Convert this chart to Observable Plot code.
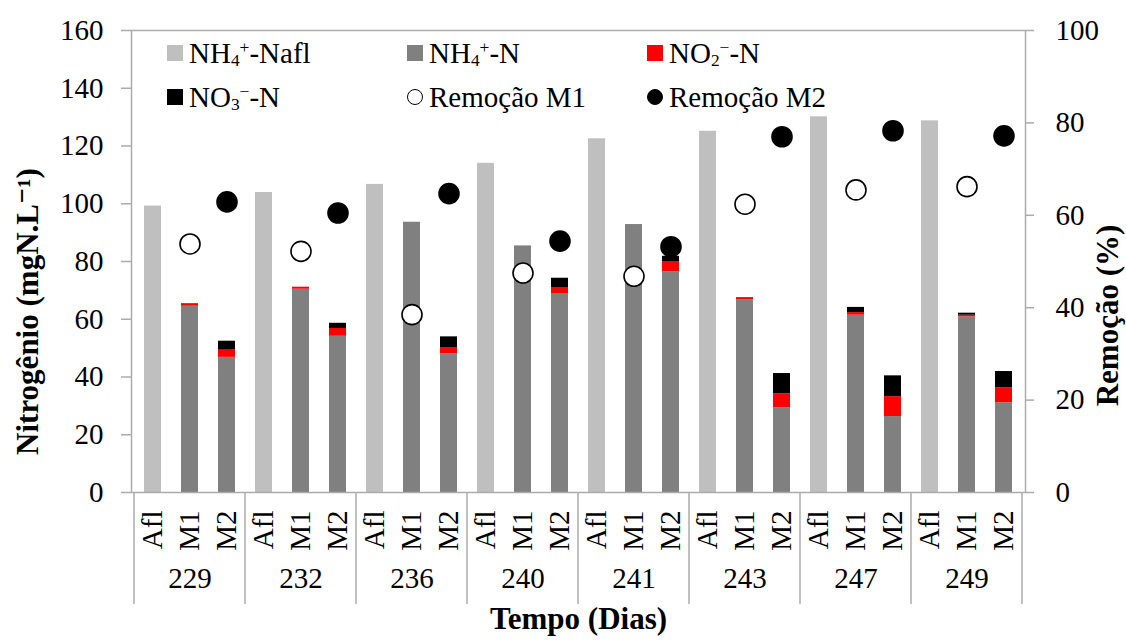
<!DOCTYPE html>
<html>
<head>
<meta charset="utf-8">
<script src="https://cdn.jsdelivr.net/npm/d3@7"></script>
<script src="https://cdn.jsdelivr.net/npm/@observablehq/plot@0.6"></script>
<style>
  body { margin: 0; background: #fff; }
  #wrap { position: relative; width: 1126px; height: 644px; font-family: "Liberation Serif", Tinos, "Times New Roman", "DejaVu Serif", "Noto Serif", serif; }
  #legend { position: absolute; left: 167px; top: 35px; display: grid; grid-template-columns: repeat(3, 240px); grid-auto-rows: 36px; row-gap: 8px; }
  .item { display: flex; align-items: center; font-size: 29px; line-height: 36px; color: #000; white-space: nowrap; }
  .sw { width: 16px; height: 16px; margin-right: 6px; flex: none; box-sizing: border-box; }
  .circ { border-radius: 50%; border: 1.6px solid #000; }
  sub, sup { font-size: 60%; line-height: 0; }
  sub { vertical-align: -0.18em; }
  sup { vertical-align: 0.55em; }
  svg text { font-family: "Liberation Serif", Tinos, "Times New Roman", "DejaVu Serif", "Noto Serif", serif; }
</style>
</head>
<body>
<div id="wrap">
  <div id="chart"></div>
  <div id="legend"></div>
</div>
<script>
// ---- data ----
const days = ["229", "232", "236", "240", "241", "243", "247", "249"];
const types = ["Afl", "M1", "M2"];
const nh4Afl = [99.2, 103.9, 106.7, 114.0, 122.5, 125.1, 130.1, 128.7];
const nh4M1  = [64.5, 70.4, 93.6, 85.4, 92.8, 66.7, 61.4, 60.8];
const no2M1  = [0.9, 0.7, 0.0, 0.0, 0.0, 0.8, 0.9, 0.6];
const no3M1  = [0.0, 0.0, 0.0, 0.0, 0.0, 0.0, 1.8, 0.7];
const nh4M2  = [46.8, 54.1, 48.1, 68.7, 76.4, 29.3, 26.3, 31.1];
const no2M2  = [2.5, 2.7, 2.1, 2.3, 3.4, 4.9, 6.9, 5.2];
const no3M2  = [3.1, 1.8, 3.7, 3.2, 2.0, 7.0, 7.2, 5.6];
const remM1  = [53.8, 52.2, 38.5, 47.5, 46.8, 62.4, 65.5, 66.2];
const remM2  = [62.9, 60.5, 64.7, 54.4, 53.2, 77.0, 78.3, 77.2];
const leftTicks = [0, 20, 40, 60, 80, 100, 120, 140, 160];
const rightTicks = [0, 20, 40, 60, 80, 100];
const compNames = ["NH₄⁺-Nafl", "NH₄⁺-N", "NO₂⁻-N", "NO₃⁻-N"];
const compColors = ["#bfbfbf", "#808080", "#ff0000", "#000000"];
const legendLabels = [
  "NH<sub>4</sub><sup>+</sup>-Nafl", "NH<sub>4</sub><sup>+</sup>-N", "NO<sub>2</sub><sup>−</sup>-N",
  "NO<sub>3</sub><sup>−</sup>-N", "Remoção M1", "Remoção M2"
];
const leftTitle = "Nitrogênio (mgN.L⁻¹)";
const rightTitle = "Remoção (%)";
const xTitle = "Tempo (Dias)";

// ---- derived tables ----
const yMax = 160, rMax = 100, K = yMax / rMax;
const keys = days.flatMap(d => types.map(t => d + "|" + t));
const bars = [];
days.forEach((d, i) => {
  bars.push({key: d + "|Afl", comp: compNames[0], value: nh4Afl[i]});
  bars.push({key: d + "|M1", comp: compNames[1], value: nh4M1[i]});
  bars.push({key: d + "|M1", comp: compNames[2], value: no2M1[i]});
  bars.push({key: d + "|M1", comp: compNames[3], value: no3M1[i]});
  bars.push({key: d + "|M2", comp: compNames[1], value: nh4M2[i]});
  bars.push({key: d + "|M2", comp: compNames[2], value: no2M2[i]});
  bars.push({key: d + "|M2", comp: compNames[3], value: no3M2[i]});
});
const remRows1 = days.map((d, i) => ({key: d + "|M1", rem: remM1[i]}));
const remRows2 = days.map((d, i) => ({key: d + "|M2", rem: remM2[i]}));

const axisColor = "#ababab";
const font = '"Liberation Serif", Tinos, "Times New Roman", "DejaVu Serif", "Noto Serif", serif';

function groupSeparators(index, scales, values, dims) {
  const x = scales.x;
  const plotW = dims.width - dims.marginLeft - dims.marginRight;
  const bw = typeof x.bandwidth === "function" ? x.bandwidth() : plotW / keys.length * 0.456;
  const step = typeof x.step === "function" ? x.step() : plotW / keys.length;
  const gap = (step - bw) / 2;
  const y0 = dims.height - dims.marginBottom;
  const edges = days.map(d => x(d + "|Afl") - gap);
  edges.push(x(days[days.length - 1] + "|M2") + bw + gap);
  const g = d3.create("svg:g").attr("stroke", axisColor).attr("stroke-width", 1.5);
  for (const e of edges) {
    g.append("line").attr("x1", e).attr("x2", e).attr("y1", y0).attr("y2", y0 + 112);
  }
  return g.node();
}

const chart = Plot.plot({
  width: 1126,
  height: 644,
  marginLeft: 131,
  marginRight: 101,
  marginTop: 30,
  marginBottom: 152,
  style: {fontFamily: font, fontSize: "29px", background: "#fff", color: "#000"},
  x: {type: "band", domain: keys, paddingInner: 0.544, paddingOuter: 0.272, axis: null},
  y: {domain: [0, yMax], axis: null},
  color: {domain: compNames, range: compColors},
  marks: [
    Plot.barY(bars, {x: "key", y: "value", fill: "comp"}),
    Plot.frame({stroke: axisColor, strokeWidth: 1.5}),
    Plot.axisY({anchor: "left", ticks: leftTicks, tickSize: 10, tickPadding: 18, stroke: axisColor, strokeWidth: 1.5, fill: "#000", fontSize: 29, label: null}),
    Plot.axisY({anchor: "right", ticks: rightTicks.map(v => v * K), tickFormat: v => String(Math.round(v / K)), tickSize: 8, tickPadding: 22, stroke: axisColor, strokeWidth: 1.5, fill: "#000", fontSize: 29, label: null}),
    Plot.axisX({ticks: keys, tickFormat: k => k.split("|")[1], tickRotate: -90, tickSize: 0, tickPadding: 18, fill: "#000", fontSize: 29, label: null}),
    groupSeparators,
    Plot.text(days, {x: d => d + "|M1", text: d => d, frameAnchor: "bottom", dy: 95, fontSize: 29, fill: "#000"}),
    Plot.dot(remRows1, {x: "key", y: d => d.rem * K, r: 10, fill: "#fff", stroke: "#000", strokeWidth: 1.6}),
    Plot.dot(remRows2, {x: "key", y: d => d.rem * K, r: 10, fill: "#000", stroke: "#000", strokeWidth: 1.6}),
    Plot.text([xTitle], {frameAnchor: "bottom", dy: 136, fontSize: 31, fontWeight: "bold", fill: "#000"}),
    Plot.text([leftTitle], {frameAnchor: "left", textAnchor: "middle", rotate: -90, dx: -103, dy: 50, fontSize: 31, fontWeight: "bold", fill: "#000"}),
    Plot.text([rightTitle], {frameAnchor: "right", textAnchor: "middle", rotate: -90, dx: 83, dy: 54, fontSize: 31, fontWeight: "bold", fill: "#000"})
  ]
});
document.getElementById("chart").appendChild(chart);

// ---- legend (HTML) ----
const legend = document.getElementById("legend");
const markers = [
  {cls: "sw", bg: compColors[0]},
  {cls: "sw", bg: compColors[1]},
  {cls: "sw", bg: compColors[2]},
  {cls: "sw", bg: compColors[3]},
  {cls: "sw circ", bg: "#fff"},
  {cls: "sw circ", bg: "#000"}
];
legendLabels.forEach((lab, i) => {
  const item = document.createElement("div");
  item.className = "item";
  const sw = document.createElement("span");
  sw.className = markers[i].cls;
  sw.style.background = markers[i].bg;
  const tx = document.createElement("span");
  tx.innerHTML = lab;
  item.appendChild(sw);
  item.appendChild(tx);
  legend.appendChild(item);
});
</script>
</body>
</html>
